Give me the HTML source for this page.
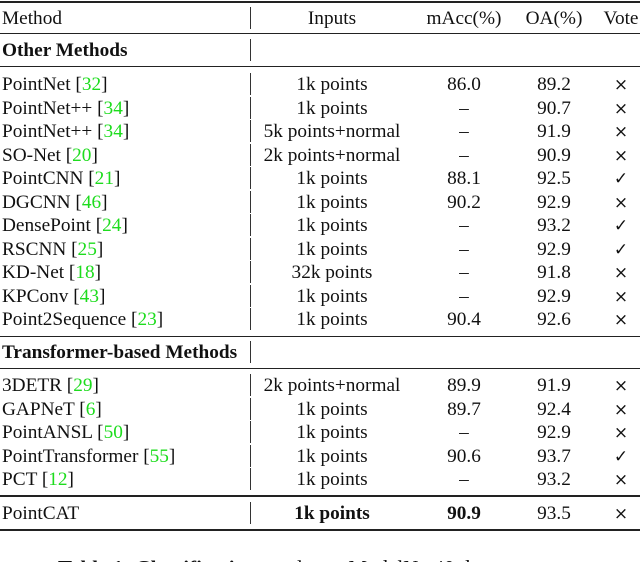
<!DOCTYPE html>
<html><head><meta charset="utf-8">
<style>
html,body{margin:0;padding:0;background:#fff;}
#t{position:relative;width:640px;height:562px;overflow:hidden;font-family:"Liberation Serif","DejaVu Serif",serif;font-size:19.3px;color:#111;}
.c{position:absolute;white-space:nowrap;line-height:20px;}
.r{position:absolute;left:0;width:640px;background:#222;}
.sep{position:absolute;left:250px;width:1px;background:#333;}
.g{color:#1ddc1d;}
</style></head><body>
<div id="t"></div>
<script>
const methods=[["PointNet","32"],["PointNet++","34"],["PointNet++","34"],["SO-Net","20"],["PointCNN","21"],["DGCNN","46"],["DensePoint","24"],["RSCNN","25"],["KD-Net","18"],["KPConv","43"],["Point2Sequence","23"]];
const inputs=["1k points","1k points","5k points+normal","2k points+normal","1k points","1k points","1k points","1k points","32k points","1k points","1k points"];
const macc=["86.0","–","–","–","88.1","90.2","–","–","–","–","90.4"];
const oa=["89.2","90.7","91.9","90.9","92.5","92.9","93.2","92.9","91.8","92.9","92.6"];
const vote=["×","×","×","×","✓","×","✓","✓","×","×","×"];
const tMethods=[["3DETR","29"],["GAPNeT","6"],["PointANSL","50"],["PointTransformer","55"],["PCT","12"]];
const tInputs=["2k points+normal","1k points","1k points","1k points","1k points"];
const tMacc=["89.9","89.7","–","90.6","–"];
const tOa=["91.9","92.4","92.9","93.7","93.2"];
const tVote=["×","×","×","✓","×"];
const T=document.getElementById('t');
function txt(html,x,y,align,name,bold){
  const d=document.createElement('div');d.className='c';d.innerHTML=html;
  
  
  d.style.top=(y-9)+'px';
  if(align==='l')d.style.left=x+'px';else{d.style.left=(x-120)+'px';d.style.width='240px';d.style.textAlign='center';}
  if(bold)d.style.fontWeight='bold';
  T.appendChild(d);
  return d;
}
function rule(y,h,name){const d=document.createElement('div');d.className='r';d.style.top=y+'px';d.style.height=h+'px';
  
  
  T.appendChild(d);}
function sep(y){const d=document.createElement('div');d.className='sep';d.style.top=(y-11)+'px';d.style.height='22px';
  
  
  T.appendChild(d);}
function vs(v){return '<span style="font-family:\'DejaVu Sans\';font-size:17px">'+v+'</span>';}
rule(1,2,'top-rule');
const hy=18;
txt('Method',2,hy,'l','header-method');sep(hy);
txt('Inputs',332,hy,'c','header-inputs');txt('mAcc(%)',464,hy,'c','header-macc');
txt('OA(%)',554,hy,'c','header-oa');txt('Vote',621,hy,'c','header-vote');
rule(33,1,'header-rule');
txt('Other Methods',2,50,'l','section-other-methods',true);sep(50);
rule(66,1,'section-rule');
function row(m,i,a,o,v,y){
  txt(m[0]+' [<span class="g">'+m[1]+'</span>]',2,y,'l','method-name');sep(y);
  txt(i,332,y,'c','inputs-cell');txt(a,464,y,'c','macc-cell');txt(o,554,y,'c','oa-cell');txt(vs(v),621,y,'c','vote-cell');
}
methods.forEach((m,k)=>row(m,inputs[k],macc[k],oa[k],vote[k],84+k*23.5));
rule(336,1,'section-rule');
txt('Transformer-based Methods',2,352,'l','section-transformer-methods',true);sep(352);
rule(368,1,'section-rule');
tMethods.forEach((m,k)=>row(m,tInputs[k],tMacc[k],tOa[k],tVote[k],385+k*23.5));
rule(495,2,'ours-rule');
txt('PointCAT',2,513,'l','method-name');sep(513);
txt('1k points',332,513,'c','inputs-cell',true);txt('90.9',464,513,'c','macc-cell',true);
txt('93.5',554,513,'c','oa-cell');txt(vs('×'),621,513,'c','vote-cell');
rule(529,2,'bottom-rule');
const cap=txt('<b>Table 1: Classification</b> results on ModelNet40 dataset.',58,567,'l','table-caption');
cap.style.fontSize='21px';
</script>
</body></html>
